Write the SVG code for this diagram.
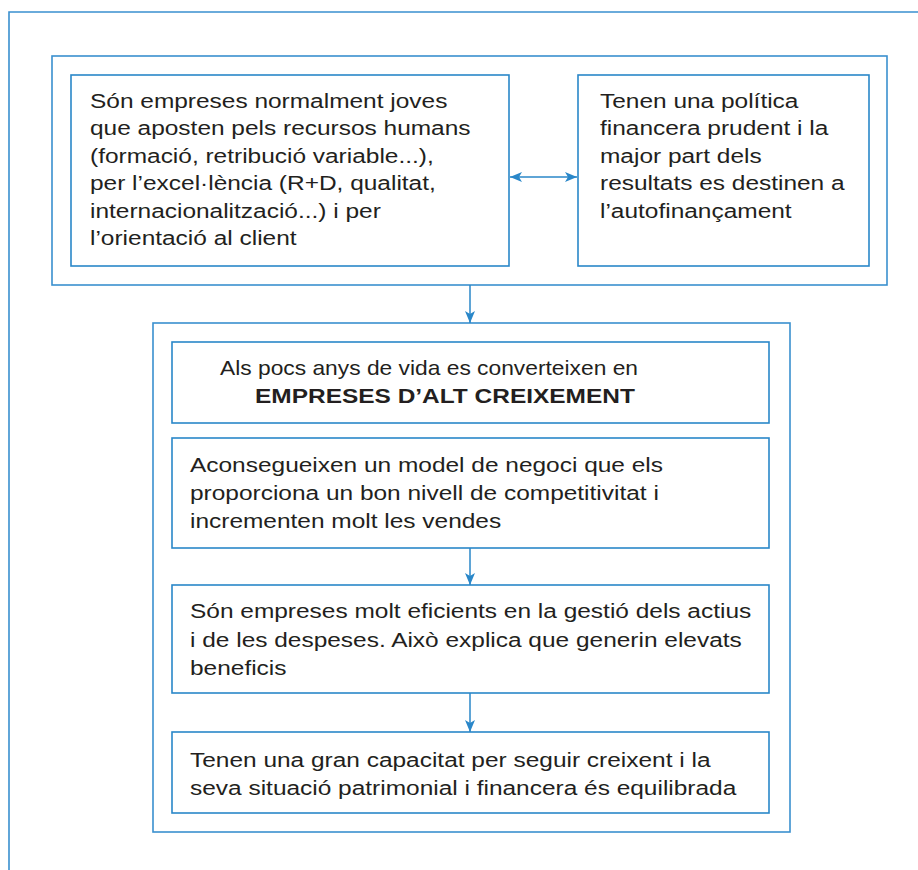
<svg xmlns="http://www.w3.org/2000/svg" width="918" height="870" viewBox="0 0 918 870">
  <defs>
    <marker id="arrow" viewBox="0 0 12 10" refX="12" refY="5" markerWidth="12" markerHeight="10" markerUnits="userSpaceOnUse" orient="auto-start-reverse">
      <path d="M0,0 L12,5 L0,10 L3,5 Z" fill="#2a87c9"/>
    </marker>
  </defs>
  <style>
    .frame { fill: none; stroke: #3a90cf; stroke-width: 1.6; }
    .box { fill: #ffffff; stroke: #2a87c9; stroke-width: 1.6; }
    .link { fill: none; stroke: #2a87c9; stroke-width: 1.5; }
    text { font-family: "Liberation Sans", Arial, Helvetica, sans-serif; font-size: 21px; fill: #231f20; }
    .bold { font-weight: bold; }
  </style>

  <rect width="918" height="870" fill="#ffffff"/>

  <!-- open page frame -->
  <path class="frame" d="M9,870 V12 H918"/>

  <!-- upper group -->
  <g id="upper-group">
    <rect class="frame" x="52" y="56" width="835" height="229"/>
  </g>

  <g id="node-young-firms">
    <rect class="box" x="71" y="75" width="438" height="191"/>
    <g transform="translate(90,0) scale(1.165,1)">
      <text x="0" y="108">Són empreses normalment joves</text>
      <text x="0" y="135.5">que aposten pels recursos humans</text>
      <text x="0" y="163">(formació, retribució variable...),</text>
      <text x="0" y="190.5">per l’excel·lència (R+D, qualitat,</text>
      <text x="0" y="218">internacionalització...) i per</text>
      <text x="0" y="245.5">l’orientació al client</text>
    </g>
  </g>

  <g id="node-financial-policy">
    <rect class="box" x="578" y="75" width="291" height="191"/>
    <g transform="translate(600,0) scale(1.165,1)">
      <text x="0" y="108">Tenen una política</text>
      <text x="0" y="135.5">financera prudent i la</text>
      <text x="0" y="163">major part dels</text>
      <text x="0" y="190.5">resultats es destinen a</text>
      <text x="0" y="218">l’autofinançament</text>
    </g>
  </g>

  <!-- lower group -->
  <g id="lower-group">
    <rect class="frame" x="153" y="323" width="637" height="509"/>
  </g>

  <g id="node-high-growth">
    <rect class="box" x="172" y="342" width="597" height="81"/>
    <text x="220" y="375" textLength="418" lengthAdjust="spacingAndGlyphs">Als pocs anys de vida es converteixen en</text>
    <g transform="translate(255,0) scale(1.165,1)">
      <text x="0" y="403" class="bold">EMPRESES D’ALT CREIXEMENT</text>
    </g>
  </g>

  <g id="node-business-model">
    <rect class="box" x="172" y="438" width="597" height="110"/>
    <g transform="translate(190,0) scale(1.165,1)">
      <text x="0" y="472">Aconsegueixen un model de negoci que els</text>
      <text x="0" y="500">proporciona un bon nivell de competitivitat i</text>
      <text x="0" y="528">incrementen molt les vendes</text>
    </g>
  </g>

  <g id="node-efficiency">
    <rect class="box" x="172" y="585" width="597" height="108"/>
    <g transform="translate(190,0) scale(1.165,1)">
      <text x="0" y="618">Són empreses molt eficients en la gestió dels actius</text>
      <text x="0" y="647">i de les despeses. Això explica que generin elevats</text>
      <text x="0" y="675">beneficis</text>
    </g>
  </g>

  <g id="node-capacity">
    <rect class="box" x="172" y="732" width="597" height="81"/>
    <g transform="translate(190,0) scale(1.165,1)">
      <text x="0" y="767">Tenen una gran capacitat per seguir creixent i la</text>
      <text x="0" y="795">seva situació patrimonial i financera és equilibrada</text>
    </g>
  </g>

  <!-- connectors -->
  <g id="connectors">
    <line class="link" x1="510" y1="177" x2="577" y2="177" marker-start="url(#arrow)" marker-end="url(#arrow)"/>
    <line class="link" x1="470" y1="285" x2="470" y2="323" marker-end="url(#arrow)"/>
    <line class="link" x1="470" y1="548" x2="470" y2="585" marker-end="url(#arrow)"/>
    <line class="link" x1="470" y1="693" x2="470" y2="732" marker-end="url(#arrow)"/>
  </g>
</svg>
